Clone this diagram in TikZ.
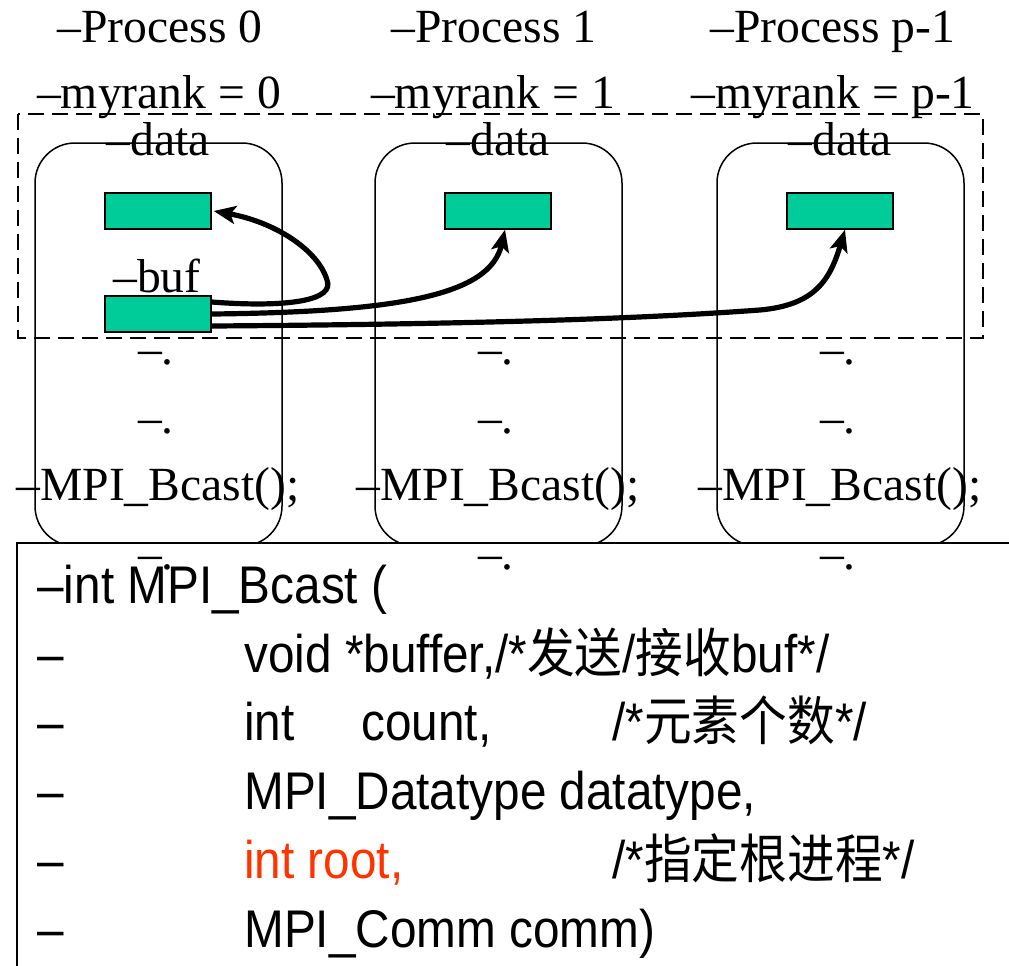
\documentclass[tikz,border=0pt]{standalone}
\usepackage{fontspec}
\setmainfont{Liberation Serif}
\newfontfamily\codefont[FakeStretch=0.9]{Liberation Sans}
\newfontfamily\cjk[FakeStretch=0.9]{Noto Sans CJK SC}
\usetikzlibrary{arrows.meta}

\definecolor{bufgreen}{RGB}{0,204,153}
\definecolor{rootred}{RGB}{255,51,0}

\tikzset{
    proc/.style={draw, line width=0.75pt, rounded corners=20pt},
    cell/.style={draw, fill=bufgreen, line width=0.7pt, minimum width=53pt, minimum height=18pt, inner sep=0pt},
    lbl/.style={anchor=base, inner sep=0pt, font=\fontsize{23.8}{28}\selectfont},
    code/.style={anchor=base west, inner sep=0pt, font=\codefont\fontsize{26.5}{30}\selectfont},
    bcast/.style={-{Stealth[length=11pt,width=9pt,inset=2.5pt]}, line width=2.6pt},
}

\begin{document}
\begin{tikzpicture}[x=0.5pt,y=-0.5pt]
                    \useasboundingbox (0,0) rectangle (1009,966);

                    % process headers
                    \node[lbl] (p0) at (160,42) {–Process 0};
                    \node[lbl] (p1) at (494,42) {–Process 1};
                    \node[lbl] (p2) at (833,42) {–Process p-1};
                    \node[lbl] (r0) at (159,108) {–myrank = 0};
                    \node[lbl] (r1) at (493,108) {–myrank = 1};
                    \node[lbl] (r2) at (833,108) {–myrank = p-1};

                    % memory
                    \draw[dashed, line width=0.65pt, dash pattern=on 8pt off 4pt] (18,114) rectangle (983,338);

                    % processes
                    \draw[proc] (35,143) rectangle (282,546);
                    \draw[proc] (375,143) rectangle (622,546);
                    \draw[proc] (717,143) rectangle (964,546);

                    % buffers
                    \node[cell] (data0) at (158,211) {};
                    \node[cell] (data1) at (498,211) {};
                    \node[cell] (data2) at (840,211) {};
                    \node[cell] (buf) at (158,314) {};

                    % labels
                    \node[lbl] (d0) at (158,155) {–data};
                    \node[lbl] (d1) at (498,155) {–data};
                    \node[lbl] (d2) at (840,155) {–data};
                    \node[lbl] (b0) at (157,292) {–buf};
                    \node[lbl] (e0a) at (156,364) {–.};
                    \node[lbl] (e1a) at (496,364) {–.};
                    \node[lbl] (e2a) at (838,364) {–.};
                    \node[lbl] (e0b) at (156,433) {–.};
                    \node[lbl] (e1b) at (496,433) {–.};
                    \node[lbl] (e2b) at (838,433) {–.};
                    \node[lbl] (c0) at (158,500) {–MPI\_Bcast();};
                    \node[lbl] (c1) at (498,500) {–MPI\_Bcast();};
                    \node[lbl] (c2) at (840,500) {–MPI\_Bcast();};

                    % broadcast arrows
                    \draw[bcast] ([yshift=6pt]buf.east) .. controls (290,308) and (335,300) .. (327,280)
                                 .. controls (318,250) and (275,222) .. ([xshift=1pt]data0.east);
                    \draw[bcast] (buf.east) .. controls (400,312) and (490,295) .. ([xshift=3.5pt]data1.south);
                    \draw[bcast] ([yshift=-6pt]buf.east) .. controls (500,324) and (650,318) .. (760,310)
                                 .. controls (815,305) and (830,280) .. ([xshift=2.5pt]data2.south);

                    % prototype box
                    \fill[white] (17,543) rectangle (1009,966);
                    \draw[line width=0.75pt] (1009,543) -- (17,543) -- (17,966);
                    \node[lbl] (e0c) at (156,569) {–.};
                    \node[lbl] (e1c) at (496,569) {–.};
                    \node[lbl] (e2c) at (838,569) {–.};

                    % prototype text
                    \node[code] (l1) at (37,603) {–int MPI\_Bcast (};
                    \node[code] (m2) at (37,672) {–};
                    \node[code] (l2) at (244,672) {void *buffer,/*{\cjk 发送}/{\cjk 接收}buf*/};
                    \node[code] (m3) at (37,740) {–};
                    \node[code] (l3) at (244,740) {int};
                    \node[code] (l3b) at (361,740) {count,};
                    \node[code] (k3) at (612,740) {/*{\cjk 元素个数}*/};
                    \node[code] (m4) at (37,809) {–};
                    \node[code] (l4) at (244,809) {MPI\_Datatype datatype,};
                    \node[code] (m5) at (37,878) {–};
                    \node[code, text=rootred] (l5) at (244,878) {int root,};
                    \node[code] (k5) at (612,878) {/*{\cjk 指定根进程}*/};
                    \node[code] (m6) at (37,947) {–};
                    \node[code] (l6) at (244,947) {MPI\_Comm comm)};

\end{tikzpicture}
\end{document}
